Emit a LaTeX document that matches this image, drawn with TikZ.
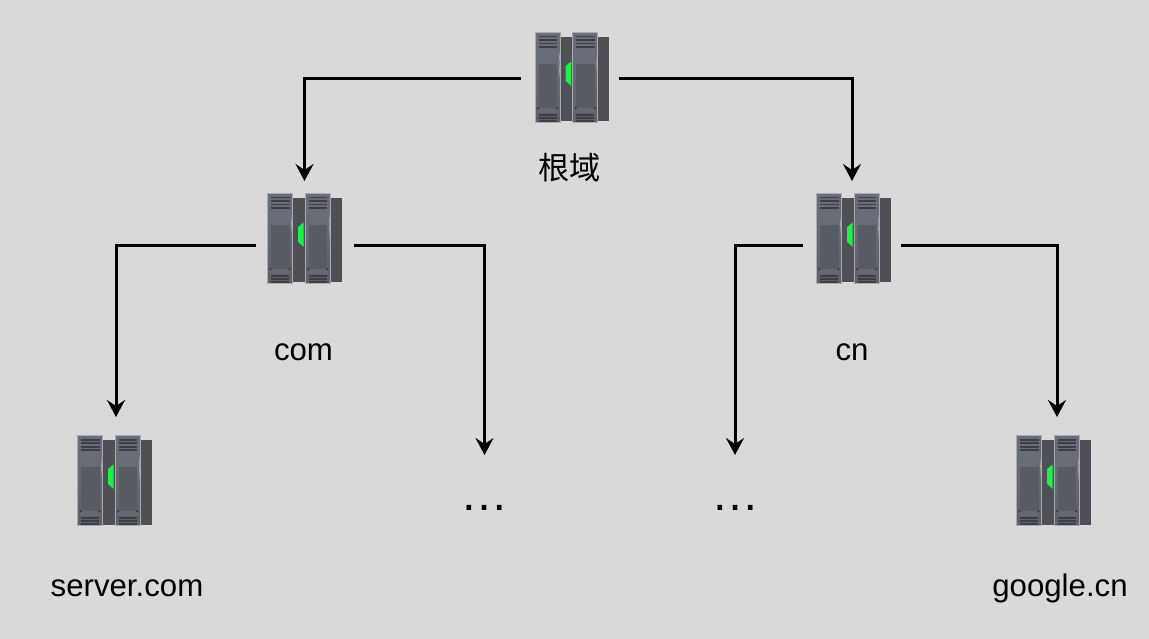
\documentclass[tikz,border=0pt]{standalone}
\usepackage{fontspec}
\setmainfont{Liberation Sans}
\newfontfamily\cjkfont{Noto Sans CJK SC}
\usetikzlibrary{arrows.meta,positioning}
\definecolor{bgc}{HTML}{D9D9D9}
\definecolor{srvlight}{HTML}{6C727D}
\definecolor{srvmid}{HTML}{5C6069}
\definecolor{srvdark}{HTML}{3C3F46}
\definecolor{srvback}{HTML}{4E5056}
\definecolor{srvgreen}{HTML}{1EF04A}
\tikzset{
  hub/.style={minimum width=98pt,minimum height=129.4pt,inner sep=0pt,outer sep=0pt},
  link/.style={line width=3pt,draw=black,-{Stealth[length=17pt,width=18pt,inset=6pt]}},
  lbl/.style={font=\fontsize{31.2pt}{34pt}\selectfont,text=black,inner sep=0pt},
  gap/.style={font=\fontsize{48pt}{50pt}\selectfont,text=black,inner sep=0pt,minimum height=106pt,anchor=north},
  pics/rackunit/.style={code={
    \shade[top color=srvlight,bottom color=srvmid,draw=srvlight!60!white,line width=.5pt] (0,0) rectangle (25,90);
    \fill[srvlight!95!black] (1,1) rectangle (24,19);
    \foreach \yy in {3,6.5,10,13.5}{\fill[srvdark] (3.5,\yy) rectangle (22,\yy+1.8);}
    \fill[srvmid!85!srvdark] (3.5,31) rectangle (22,75);
    \fill[srvmid!95!white] (2.5,75) rectangle (22.5,80);
    \fill[black!80] (3,75.5) circle (1.1) (22,75.5) circle (1.1);
    \foreach \yy in {81.5,84.5,87.5}{\fill[srvdark] (3.5,\yy) rectangle (21.5,\yy+1.4);}
    \draw[srvlight!60!white,line width=.7pt] (25,20) -- (24,30) -- (25,45);
  }},
  pics/server/.style={code={
    \fill[srvback] (26,5) rectangle (75,89.5);
    \pic at (1,.7) {rackunit};
    \pic at (38.7,.7) {rackunit};
    \fill[srvgreen] (31.7,34) -- (37,29.5) -- (37.2,54) -- (31.7,49) -- cycle;
  }}
}
\begin{document}
\begin{tikzpicture}[x=1pt,y=-1pt]
\useasboundingbox (0,0) rectangle (1149,639);
\fill[bgc] (0,0) rectangle (1149,639);
\pic at (534,32) {server};
\pic at (266.5,193) {server};
\pic at (815.5,193) {server};
\pic at (76.5,435) {server};
\pic at (1015.5,435) {server};
\node[hub] (root) at (569.5,78.7) {};
\node[hub] (com) at (304.5,245.7) {};
\node[hub] (cn) at (852,245.7) {};
\node[hub] (srv) at (116,481.7) {};
\node[hub] (goo) at (1057,481.7) {};
\node[gap] (d1) at (484.5,455) {…};
\node[gap] (d2) at (735,455) {…};
\node[lbl] (t0) at (569.5,167.5) {\cjkfont 根域};
\node[lbl] (t1) at (303.5,352.5) {com};
\node[lbl] (t2) at (852,352.5) {cn};
\node[lbl] (t3) at (127,588.5) {server.com};
\node[lbl] (t4) at (1060,588.5) {google.cn};
\draw[link] (root.west) -| (com.north);
\draw[link] (root.east) -| (cn.north);
\draw[link] (com.west) -| (srv.north);
\draw[link] (com.east) -| (d1.north);
\draw[link] (cn.west) -| (d2.north);
\draw[link] (cn.east) -| (goo.north);
\end{tikzpicture}
\end{document}
